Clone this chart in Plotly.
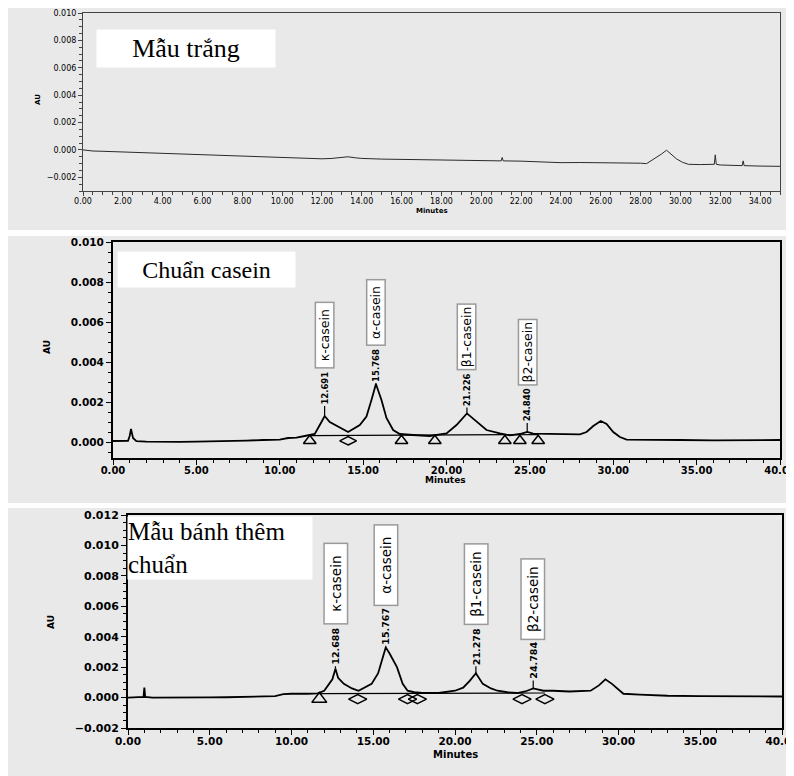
import numpy as np
import plotly.graph_objects as go

W, H = 794, 776

# ------------------------------------------------------------------ DATA
# Panel 1 : blank sample (Mẫu trắng)
blank_t = [0, 0.5, 1, 2, 3, 4, 5, 6, 7, 8, 9, 10, 11, 12, 12.5, 13.0, 13.3, 13.7,
           14, 15, 16, 17, 18, 19, 20, 21.0, 21.05, 21.1, 22, 23, 24, 25, 26, 27,
           28, 28.3, 28.8, 29.05, 29.3, 29.5, 29.8, 30.1, 30.4, 31, 31.7, 31.75,
           31.8, 32, 33.1, 33.15, 33.2, 34, 35]
blank_au = [0.0, -0.00008, -0.0001, -0.00015, -0.0002, -0.00028, -0.00033, -0.00038,
            -0.00042, -0.00048, -0.00053, -0.00058, -0.00062, -0.00065, -0.00062,
            -0.00052, -0.0005, -0.00058, -0.00062, -0.00067, -0.0007, -0.00072,
            -0.00075, -0.00078, -0.0008, -0.0008, -0.00055, -0.0008, -0.00082,
            -0.00088, -0.00093, -0.00092, -0.00092, -0.00095, -0.00097, -0.001,
            -0.00055, -0.0003, -0.00002, -0.0003, -0.00065, -0.0009, -0.00105,
            -0.00107, -0.00105, -0.00036, -0.00105, -0.0011, -0.00115, -0.0008,
            -0.00115, -0.00118, -0.0012]

# Panel 2 : casein standard (Chuẩn casein)
std_t = [0, 0.5, 0.9, 1.0, 1.08, 1.2, 1.4, 2, 3, 4, 5, 6, 7, 8, 9, 10, 10.5, 11,
         11.5, 12.1, 12.5, 12.691, 13.0, 13.5, 14.1, 14.8, 15.2, 15.5, 15.768,
         16.1, 16.4, 16.8, 17.2, 18, 19, 20.0, 20.6, 21.226, 21.8, 22.4, 23.2,
         23.8, 24.4, 24.84, 25.2, 26, 27, 28.0, 28.4, 28.8, 29.25, 29.6, 30.0,
         30.4, 30.8, 32, 34, 36, 38, 40]
std_au = [0.00005, 0.00004, 0.00006, 0.0003, 0.00065, 0.0002, 0.00004, 0.00002,
          0.0, 0.00001, 0.00002, 0.00003, 0.00005, 0.00007, 0.0001, 0.00012,
          0.0002, 0.00022, 0.0003, 0.0004, 0.001, 0.0013, 0.001, 0.00077, 0.0005,
          0.00085, 0.00127, 0.0021, 0.0029, 0.0021, 0.0012, 0.0006, 0.0004,
          0.00035, 0.0003, 0.00043, 0.00085, 0.00143, 0.001, 0.0006, 0.00043,
          0.00033, 0.0004, 0.0005, 0.00042, 0.0004, 0.00038, 0.00038, 0.0005,
          0.0008, 0.00105, 0.0009, 0.0005, 0.00025, 0.00012, 0.0001, 0.0001,
          0.00008, 0.00009, 0.0001]
std_names = ["κ-casein", "α-casein", "β1-casein", "β2-casein"]
std_rt = [12.691, 15.768, 21.226, 24.840]
std_rt_text = ["12.691", "15.768", "21.226", "24.840"]
std_tri_t = [11.8, 17.3, 19.3, 23.5, 24.4, 25.5]
std_tri_au = [0.00006, 0.00006, 0.00006, 0.00006, 0.00006, 0.00006]
std_dia_t = [14.1]
std_dia_au = [0.00006]
std_base_t = [11.8, 14.1, 17.3, 19.3, 23.5, 24.4, 25.5]
std_base_au = [0.00032, 0.00033, 0.00035, 0.00035, 0.00036, 0.00037, 0.00037]

# Panel 3 : cake sample spiked with standard (Mẫu bánh thêm chuẩn)
mix_t = [0, 0.5, 0.95, 1.0, 1.05, 1.5, 2, 3, 4, 5, 6, 7, 8, 9, 9.5, 10, 11, 11.6,
         12.0, 12.3, 12.5, 12.688, 12.85, 13.2, 13.7, 14.1, 14.5, 14.9, 15.3,
         15.5, 15.767, 16.0, 16.45, 16.8, 17.1, 17.5, 18, 19, 20, 20.5, 20.9,
         21.278, 21.7, 22.2, 22.6, 23.2, 23.8, 24.3, 24.784, 25.4, 26, 27, 27.8,
         28.3, 28.8, 29.2, 29.6, 30.0, 30.3, 31.3, 33, 35, 37, 40]
mix_au = [0.0, 0.00002, 0.00005, 0.00065, 0.00005, 0.0, 0.0, -0.00003, 0.0,
          0.00001, 0.00002, 0.00005, 0.00008, 0.0001, 0.00022, 0.00025, 0.00025,
          0.00028, 0.00045, 0.0009, 0.0012, 0.0019, 0.0013, 0.0009, 0.0006,
          0.00045, 0.0007, 0.0009, 0.0016, 0.0024, 0.0033, 0.0029, 0.002, 0.0009,
          0.00045, 0.00035, 0.0003, 0.0003, 0.00045, 0.00065, 0.0011, 0.0016,
          0.0009, 0.0006, 0.00045, 0.00035, 0.0003, 0.0004, 0.0006, 0.00045,
          0.00045, 0.0004, 0.00045, 0.00045, 0.0008, 0.0012, 0.0009, 0.0005,
          0.00025, 0.0002, 0.00012, 0.0001, 0.0001, 0.00007]
mix_names = ["κ-casein", "α-casein", "β1-casein", "β2-casein"]
mix_rt = [12.688, 15.767, 21.278, 24.784]
mix_rt_text = ["12.688", "15.767", "21.278", "24.784"]
mix_tri_t = [11.7]
mix_tri_au = [-0.0001]
mix_dia_t = [14.05, 17.1, 17.7, 24.1, 25.5]
mix_dia_au = [-0.0001, -0.0001, -0.0001, -0.0001, -0.0001]
mix_base_t = [11.7, 14.05, 17.1, 17.7, 24.1, 25.5]
mix_base_au = [0.00026, 0.00027, 0.00028, 0.00028, 0.00029, 0.0003]

assert len(blank_t) == len(blank_au)
assert len(std_t) == len(std_au)
assert len(mix_t) == len(mix_au)

# ------------------------------------------------------------------ STYLE
GRAY = "#e9e9e9"
OFF = 8  # the page places the figure 8 px in from the top-left corner
px = lambda x: (x - OFF) / W
py = lambda y: 1 - (y - OFF) / H

fig = go.Figure()

# panel backgrounds
for (x0, y0, x1, y1) in [(8, 8, 787, 230), (8, 236, 786, 503), (8, 508, 802, 784)]:
    fig.add_shape(type="rect", xref="paper", yref="paper", x0=px(x0), x1=px(x1),
                  y0=py(y1), y1=py(y0), fillcolor=GRAY, line_width=0, layer="below")

# traces
fig.add_trace(go.Scatter(x=blank_t, y=blank_au, mode="lines",
                         line=dict(color="#2a2a2a", width=1), xaxis="x", yaxis="y"))
fig.add_trace(go.Scatter(x=std_t, y=std_au, mode="lines",
                         line=dict(color="black", width=1.8), xaxis="x2", yaxis="y2"))
fig.add_trace(go.Scatter(x=mix_t, y=mix_au, mode="lines",
                         line=dict(color="black", width=1.8), xaxis="x3", yaxis="y3"))

# integration baselines
fig.add_trace(go.Scatter(x=std_base_t, y=std_base_au, mode="lines",
                         line=dict(color="black", width=1.2), xaxis="x2", yaxis="y2"))
fig.add_trace(go.Scatter(x=mix_base_t, y=mix_base_au, mode="lines",
                         line=dict(color="black", width=1.2), xaxis="x3", yaxis="y3"))

# integration markers
mk = dict(color="black", line=dict(color="black", width=1.5))
fig.add_trace(go.Scatter(x=std_tri_t, y=std_tri_au, mode="markers", xaxis="x2", yaxis="y2",
                         marker=dict(symbol="triangle-up-open", size=11, **mk)))
fig.add_trace(go.Scatter(x=std_dia_t, y=std_dia_au, mode="markers", xaxis="x2", yaxis="y2",
                         marker=dict(symbol="diamond-wide-open", size=12, **mk)))
fig.add_trace(go.Scatter(x=mix_tri_t, y=mix_tri_au, mode="markers", xaxis="x3", yaxis="y3",
                         marker=dict(symbol="triangle-up-open", size=13, **mk)))
fig.add_trace(go.Scatter(x=mix_dia_t, y=mix_dia_au, mode="markers", xaxis="x3", yaxis="y3",
                         marker=dict(symbol="diamond-wide-open", size=13, **mk)))

# ------------------------------------------------------------------ AXES
def xax(dom, rng, dtick, minor, fmt, lw, col, fsize, weight, tlen=5, standoff=0):
    return dict(domain=dom, range=rng, dtick=dtick, tick0=0, tickformat=fmt,
                automargin=False, ticklabelstandoff=standoff,
                ticklabeloverflow="allow",
                showgrid=False, zeroline=False, showline=True, mirror=True,
                linecolor=col, linewidth=lw, ticks="outside", ticklen=tlen,
                tickcolor=col, tickwidth=1.2,
                minor=dict(dtick=minor, ticks="outside", ticklen=3, tickcolor=col,
                           tickwidth=1, showgrid=False),
                tickfont=dict(family="DejaVu Sans", size=fsize, color="black",
                              weight=weight), fixedrange=True)

L = {}
L["xaxis"] = xax([px(83), px(780)], [0, 35], 2, 0.5, ".2f", 1, "#444", 8, "normal", 4, -2)
L["yaxis"] = xax([py(191), py(13)], [-0.003, 0.010], 0.002, 0.0005, ".3f", 1, "#444", 8, "normal", 4)
L["xaxis2"] = xax([px(113), px(780)], [0, 40], 5, 1, ".2f", 2, "black", 10, "bold", 5, -3)
L["yaxis2"] = xax([py(458), py(242)], [-0.0008, 0.010], 0.002, 0.0005, ".3f", 2, "black", 10.5, "bold")
L["xaxis3"] = xax([px(128), px(782)], [0, 40], 5, 1, ".2f", 2, "black", 10.5, "bold", 5, -3)
L["yaxis3"] = xax([py(728), py(515)], [-0.002, 0.012], 0.002, 0.0005, ".3f", 2, "black", 11, "bold")
for k in ["xaxis", "xaxis2", "xaxis3"]:
    L[k]["anchor"] = "y" + k[5:]
for k in ["yaxis", "yaxis2", "yaxis3"]:
    L[k]["anchor"] = "x" + k[5:]

# ------------------------------------------------------------------ ANNOTATIONS
ann = []
def paper_text(x, y, text, size, weight="bold", angle=0, family="DejaVu Sans"):
    ann.append(dict(xref="paper", yref="paper", x=px(x), y=py(y), text=text,
                    showarrow=False, textangle=angle, xanchor="center", yanchor="middle",
                    font=dict(family=family, size=size, color="black", weight=weight)))

paper_text(38, 100, "AU", 7, angle=-90)
paper_text(47, 347, "AU", 9, angle=-90)
paper_text(51, 622, "AU", 9, angle=-90)
paper_text(432, 211, "Minutes", 7)
paper_text(446, 480, "Minutes", 9)
paper_text(455, 754, "Minutes", 10)

def title_box(cx, cy, w, h, text, size, align="center"):
    ann.append(dict(xref="paper", yref="paper", x=px(cx), y=py(cy), text=text,
                    showarrow=False, width=w, height=h, bgcolor="white",
                    borderpad=0, align=align, xanchor="center", yanchor="middle",
                    font=dict(family="Liberation Serif", size=size, color="black")))

title_box(186, 48.5, 178, 37, "Mẫu trắng", 26)
title_box(206.5, 269.5, 177, 35, "Chuẩn casein", 24)
title_box(220, 548, 184, 62, "Mẫu bánh thêm<br>chuẩn", 25, align="left")

def peak_labels(t, au, rts, rt_txt, names, xa, ya, rt_off, box_off, rt_size,
                box_size, box_len, box_th):
    for i, rt in enumerate(rts):
        h = float(np.interp(rt, t, au))
        ann.append(dict(xref=xa, yref=ya, x=rt, y=h, text=rt_txt[i], textangle=-90,
                        showarrow=True, arrowhead=0, arrowwidth=1.2, arrowcolor="black",
                        ax=0, ay=-rt_off[i], standoff=0,
                        font=dict(family="DejaVu Sans", size=rt_size, color="black",
                                  weight="bold")))
        ann.append(dict(xref=xa, yref=ya, x=rt, y=h, text=names[i], textangle=-90,
                        showarrow=False, yshift=box_off[i], bgcolor="white",
                        bordercolor="#9a9a9a", borderwidth=1.5, borderpad=0,
                        width=box_len, height=box_th,
                        font=dict(family="DejaVu Sans", size=box_size, color="black")))

peak_labels(std_t, std_au, std_rt, std_rt_text, std_names, "x2", "y2",
            [28, 19, 24, 27], [81, 72, 77, 79.5], 8.5, 12.5, 64, 17)
peak_labels(mix_t, mix_au, mix_rt, mix_rt_text, mix_names, "x3", "y3",
            [22.5, 21.5, 27, 28], [85.5, 82, 89, 89.5], 9.5, 13.5, 79, 22)

fig.update_layout(width=W, height=H, margin=dict(l=0, r=0, t=0, b=0),
                  paper_bgcolor="white", plot_bgcolor=GRAY, showlegend=False,
                  annotations=ann, **L)

fig.write_html("out.html")
